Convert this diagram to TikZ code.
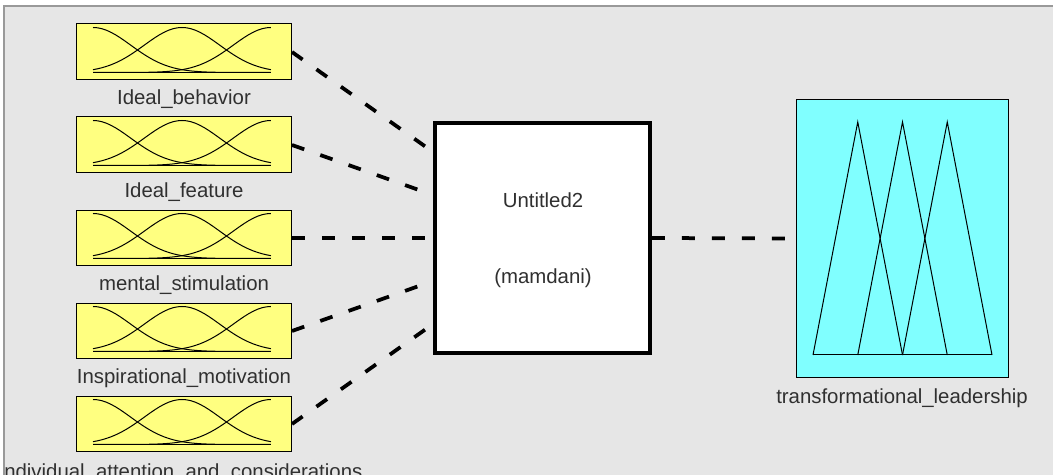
\documentclass[tikz,border=0pt]{standalone}
\usepackage{fontspec}
\setmainfont{Liberation Sans}
\usetikzlibrary{calc}
\definecolor{panel}{HTML}{E6E6E6}
\definecolor{inyellow}{HTML}{FFFF80}
\definecolor{outcyan}{HTML}{80FFFF}
\definecolor{textgray}{HTML}{303030}

\begin{document}
\begin{tikzpicture}[x=0.02cm, y=-0.02cm,
    inbox/.style={draw=black, fill=inyellow, line width=0.02cm, minimum width=4.3cm, minimum height=1.12cm, inner sep=0pt},
    sysbox/.style={draw=black, fill=white, line width=0.08cm, minimum width=4.3cm, minimum height=4.6cm, inner sep=0pt},
    outbox/.style={draw=black, fill=outcyan, line width=0.02cm, minimum width=4.24cm, minimum height=5.56cm, inner sep=0pt},
    mf/.style={black, line width=0.02cm},
    link/.style={line width=0.075cm, dash pattern=on 0.26cm off 0.34cm},
    caption/.style={text=textgray, font=\fontsize{11.6}{13}\selectfont, inner sep=0pt}]
    \useasboundingbox (0,0) rectangle (1053,475);
    % window background
    \fill[white] (0,0) rectangle (1053,475);
    \fill[panel] (4,6) rectangle (1053,475);
    \draw[gray!80, line width=0.03cm] (4,475) -- (4,6) -- (1053,6);

    \begin{scope}
    \clip (5,7) rectangle (1053,475);

    % inputs, each with three gaussian sets
    \foreach \n/\yc/\lx/\ly/\lbl in {1/52/184/99/Ideal\_behavior, 2/145/184/192/Ideal\_feature,
            3/238/184/285/mental\_stimulation, 4/331/184/378/Inspirational\_motivation,
            5/424/180.5/473/Individual\_attention\_and\_considerations}{
        \node[inbox] (in\n) at (184,\yc) {};
        \node[caption] (inlabel\n) at (\lx,\ly) {\lbl};
        \draw[mf] (93,\yc+20.5) -- (271,\yc+20.5);
        \foreach \m in {0,0.5,1}
            \draw[mf] plot[domain=0:1, samples=41]
                ({93+178*\x}, {\yc+20.5-45*exp(-1*(\x-\m)*(\x-\m)/0.0901)});
    }

    % rule block
    \node[sysbox] (sys) at (542.5,238) {};
    \node[caption] (sysname) at (543,200) {Untitled2};
    \node[caption] (systype) at (543,278) {(mamdani)};

    % output with three triangular sets
    \node[outbox] (out) at (902.5,238.5) {};
    \node[caption] (outlabel) at (902,398) {transformational\_leadership};
    \draw[mf] (813,355) -- (992,355);
    \foreach \k in {0,1,2}
        \draw[mf] ({813+44.75*\k},355) -- ({857.75+44.75*\k},122) -- ({902.5+44.75*\k},355);

    % connections
    \foreach \n/\dy in {1/-86, 2/-43, 3/0, 4/43, 5/86}
        \draw[link] (in\n.east) -- ($(sys.west)+(0,\dy)$);
    \draw[link] (sys.east) -- (out.west);
    \end{scope}
\end{tikzpicture}
\end{document}
